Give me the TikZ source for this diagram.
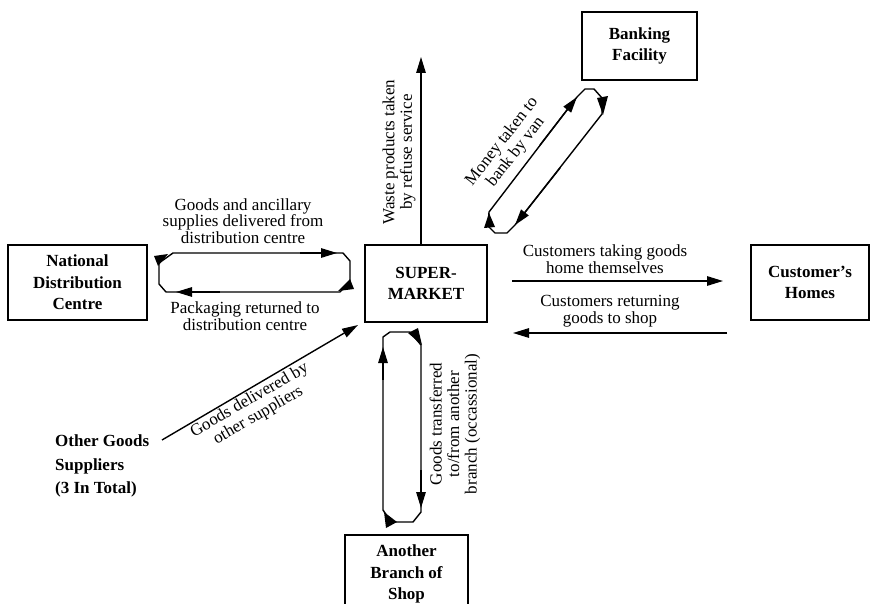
\documentclass[tikz,border=0pt]{standalone}
\usepackage{fontspec}
\setmainfont{Liberation Serif}
\usetikzlibrary{arrows.meta}
\begin{document}
\begin{tikzpicture}[x=1pt,y=-1pt,
  box/.style={draw, line width=1.6pt, align=center, inner sep=0pt,
    font=\bfseries\fontsize{17}{21.5}\selectfont},
  lbl/.style={align=center, inner sep=0pt, font=\fontsize{17}{16.5}\selectfont},
  rlbl/.style={lbl, font=\fontsize{17}{17.5}\selectfont},
  flow/.style={line width=1.4pt, line join=miter},
  tip/.style={flow, -{Triangle[length=16pt,width=9.5pt]}},
]
\useasboundingbox (0,0) rectangle (872,604);

% ---- entities ----
\node[box, minimum width=139pt, minimum height=75pt] (nd) at (77.5,282.5)
  {National\\Distribution\\Centre};
\node[box, minimum width=122pt, minimum height=77pt] (sm) at (426,283.5)
  {SUPER-\\MARKET};
\node[box, minimum width=115pt, minimum height=68pt] (bank) at (639.5,46)
  {Banking\\Facility};
\node[box, minimum width=118pt, minimum height=75pt] (home) at (810,282.5)
  {Customer's\\Homes};
\node[box, minimum width=123pt, minimum height=78pt] (branch) at (406.5,574)
  {Another\\Branch of\\Shop};
\node[align=left, inner sep=0pt, anchor=west,
  font=\bfseries\fontsize{17}{23.5}\selectfont] (other) at (55,466)
  {Other Goods\\Suppliers\\(3 In Total)};

% ---- loop between distribution centre and supermarket ----
\coordinate (a1) at (173,253); \coordinate (a2) at (343,253);
\coordinate (a3) at (350,261); \coordinate (a4) at (350,282);
\coordinate (a5) at (340,292); \coordinate (a6) at (166,292);
\coordinate (a7) at (159,284); \coordinate (a8) at (159,263);
\draw[flow] (a1) -- (a2) -- (a3) -- (a4) -- (a5) -- (a6) -- (a7) -- (a8) -- cycle;
\draw[tip] (300,253) -- (337,253);
\draw[tip] (220,292) -- (176,292);
\fill (168,254) -- (154,256) -- (158,266) -- cycle;
\fill (338,291) -- (350,279) -- (354,289) -- cycle;

% ---- loop between supermarket and bank ----
\coordinate (p1) at (489,212); \coordinate (p2) at (577,97);
\coordinate (p3) at (585,89);  \coordinate (p4) at (594,89);
\coordinate (p5) at (602,98);  \coordinate (p6) at (602,114);
\coordinate (p7) at (515,225); \coordinate (p8) at (507,233);
\coordinate (p9) at (495,233); \coordinate (p10) at (488,226);
\draw[flow] (p1) -- (p2) -- (p3) -- (p4) -- (p5) -- (p6) -- (p7) -- (p8) -- (p9) -- (p10) -- cycle;
\draw[tip] (540,145) -- (p2);
\draw[tip] (560,168) -- (p7);
\fill (603,115) -- (597,98) -- (608,96) -- cycle;
\fill (489,213) -- (484,228) -- (495,227) -- cycle;

% ---- loop between supermarket and the other branch ----
\coordinate (v1) at (383,337); \coordinate (v2) at (390,332);
\coordinate (v3) at (410,332); \coordinate (v4) at (421,345);
\coordinate (v5) at (421,512); \coordinate (v6) at (413,522);
\coordinate (v7) at (391,522); \coordinate (v8) at (383,510);
\draw[flow] (v1) -- (v2) -- (v3) -- (v4) -- (v5) -- (v6) -- (v7) -- (v8) -- cycle;
\draw[tip] (383,380) -- (383,347);
\draw[tip] (421,470) -- (421,508);
\fill (422,345) -- (408,333) -- (418,328) -- cycle;
\fill (384,512) -- (386,528) -- (397,522) -- cycle;

% ---- single flows ----
\coordinate (wasteA) at (421,245); \coordinate (wasteB) at (421,57);
\draw[tip] (wasteA) -- (wasteB);
\coordinate (takeA) at (512,281); \coordinate (takeB) at (723,281);
\draw[tip] (takeA) -- (takeB);
\coordinate (retA) at (727,333); \coordinate (retB) at (513,333);
\draw[tip] (retA) -- (retB);
\coordinate (supA) at (162,440); \coordinate (supB) at (358,325);
\draw[tip] (supA) -- (supB);

% ---- flow labels ----
\node[lbl] (l1) at (243,221) {Goods and ancillary\\supplies delivered from\\distribution centre};
\node[lbl] (l2) at (245,316) {Packaging returned to\\distribution centre};
\node[lbl] (l3) at (605,259) {Customers taking goods\\home themselves};
\node[lbl] (l4) at (610,311) {Customers returning\\goods to shop};
\node[rlbl, rotate=90] (l5) at (399,152) {Waste products taken\\by refuse service};
\node[rlbl, rotate=52] (l6) at (509,147) {Money taken to\\bank by van};
\node[rlbl, rotate=30] (l7) at (254,408) {Goods delivered by\\other suppliers};
\node[rlbl, rotate=90] (l8) at (455,424) {Goods transferred\\to/from another\\branch (occassional)};
\end{tikzpicture}
\end{document}
